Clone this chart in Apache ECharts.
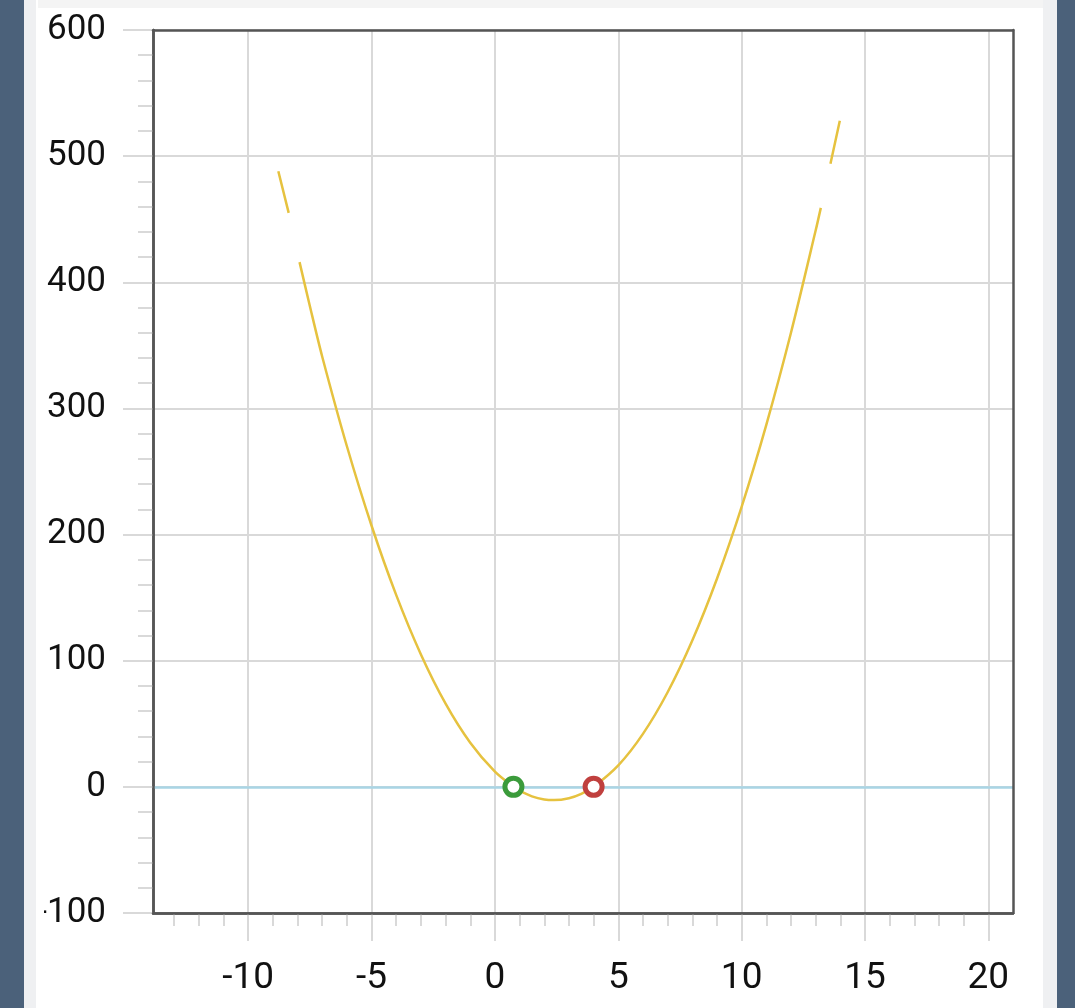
<!DOCTYPE html>
<html>
<head>
<meta charset="utf-8">
<script src="https://cdn.jsdelivr.net/npm/echarts@6/dist/echarts.min.js"></script>
<style>
  html, body { margin: 0; padding: 0; width: 1075px; height: 1008px; overflow: hidden; background: #4b617a; }
  #frame { position: absolute; left: 24px; top: 0; width: 1033px; height: 1008px; background: #eff0f2; }
  #panel { position: absolute; left: 36px; top: 0; width: 1007px; height: 1008px; background: #ffffff; }
  #band { position: absolute; left: 38px; top: 0; width: 1005px; height: 8px; background: #f4f4f4; }
  #chart { position: absolute; left: 44px; top: 0; width: 999px; height: 1008px; }
</style>
</head>
<body>
<div id="frame"></div>
<div id="panel"></div>
<div id="band"></div>
<div id="chart"></div>
<script>
// Curve samples (null = gap in the drawn curve)
const curveX = [-8.78, -8.36, -8.15, -7.92, -7.5, -7, -6, -5, -4, -3, -2, -1, 0, 0.75, 1, 1.5, 2, 2.4, 3, 3.5, 4, 5, 6, 7, 8, 9, 10, 11, 12, 13, 13.21, 13.4, 13.6, 13.98];
const curveY = [488, 455, null, 416, 381, 341, 270, 207, 152, 105, 66, 35, 12, 0, -3, -7.5, -10, -10.5, -9, -5.5, 0, 17, 42, 75, 116, 165, 222, 287, 360, 441, 459, null, 494, 528];

// Root markers
const rootGreenX = [0.75];
const rootGreenY = [0];
const rootRedX = [4];
const rootRedY = [0];

// Axes
const xMin = -13.86;
const xMax = 21;
const xMajorTicks = [-10, -5, 0, 5, 10, 15, 20];
const xMinorTicks = [-13, -12, -11, -10, -9, -8, -7, -6, -5, -4, -3, -2, -1, 0, 1, 2, 3, 4, 5, 6, 7, 8, 9, 10, 11, 12, 13, 14, 15, 16, 17, 18, 19, 20];
const yMin = -100;
const yMax = 600;
const yStep = 100;
const zeroLineY = 0;

const curveData = curveX.map((x, i) => [x, curveY[i]]);
const greenData = rootGreenX.map((x, i) => [x, rootGreenY[i]]);
const redData = rootRedX.map((x, i) => [x, rootRedY[i]]);

const gridColor = '#d9d9d9';
const frameColor = '#555555';
const frameAxis = {
  axisLine: { show: true, onZero: false, lineStyle: { color: frameColor, width: 2.5 } },
  axisTick: { show: false }, axisLabel: { show: false }, splitLine: { show: false }, z: 10
};
const chart = echarts.init(document.getElementById('chart'));
chart.setOption({
  animation: false,
  grid: {
    left: 109, top: 30, right: 30, bottom: 95,
    containLabel: false,
    outerBoundsMode: 'none'
  },
  xAxis: [
    {
      type: 'value', min: xMin, max: xMax, position: 'bottom',
      axisLine: { show: true, onZero: false, lineStyle: { color: frameColor, width: 2.5 } },
      axisTick: { show: true, customValues: xMajorTicks, length: 28, lineStyle: { color: gridColor, width: 2 } },
      axisLabel: { show: true, customValues: xMajorTicks, fontSize: 37, fontFamily: 'Roboto', color: '#111', margin: 47 },
      splitLine: { show: true, lineStyle: { color: gridColor, width: 2 } }
    },
    {
      type: 'value', min: xMin, max: xMax, position: 'bottom',
      axisLine: { show: false, onZero: false },
      axisTick: { show: true, customValues: xMinorTicks, length: 13, lineStyle: { color: gridColor, width: 2 } },
      axisLabel: { show: false },
      splitLine: { show: false }
    },
    Object.assign({ type: 'value', min: xMin, max: xMax, position: 'top' }, frameAxis),
    Object.assign({ type: 'value', min: xMin, max: xMax, position: 'bottom' }, frameAxis)
  ],
  yAxis: [
    {
      type: 'value', min: yMin, max: yMax, interval: yStep,
      axisLine: { show: true, onZero: false, lineStyle: { color: frameColor, width: 2.5 } },
      axisTick: { show: true, length: 30, lineStyle: { color: gridColor, width: 2 } },
      minorTick: { show: true, splitNumber: 5, length: 15, lineStyle: { color: gridColor, width: 2 } },
      axisLabel: { fontSize: 35, fontFamily: 'Roboto', color: '#111', margin: 47, padding: [8, 0, 0, 0] },
      splitLine: { show: true, lineStyle: { color: gridColor, width: 2 } }
    },
    Object.assign({ type: 'value', min: yMin, max: yMax, interval: yStep, position: 'right' }, frameAxis),
    Object.assign({ type: 'value', min: yMin, max: yMax, interval: yStep, position: 'left' }, frameAxis)
  ],
  series: [
    {
      type: 'line', xAxisIndex: 0, yAxisIndex: 0, data: curveData, smooth: 0.3, connectNulls: false,
      showSymbol: false, symbol: 'none',
      lineStyle: { color: '#e6c23f', width: 2.5 },
      markLine: {
        silent: true, symbol: 'none', label: { show: false },
        lineStyle: { color: '#a9d5e5', width: 2.5, type: 'solid' },
        data: [{ yAxis: zeroLineY }]
      },
      z: 3
    },
    {
      type: 'scatter', xAxisIndex: 0, yAxisIndex: 0, data: greenData, symbol: 'circle', symbolSize: 17,
      itemStyle: { color: '#ffffff', borderColor: '#3b9b3b', borderWidth: 5, opacity: 1 }, z: 5
    },
    {
      type: 'scatter', xAxisIndex: 0, yAxisIndex: 0, data: redData, symbol: 'circle', symbolSize: 17,
      itemStyle: { color: '#ffffff', borderColor: '#c0403e', borderWidth: 5, opacity: 1 }, z: 5
    }
  ]
});
</script>
</body>
</html>
